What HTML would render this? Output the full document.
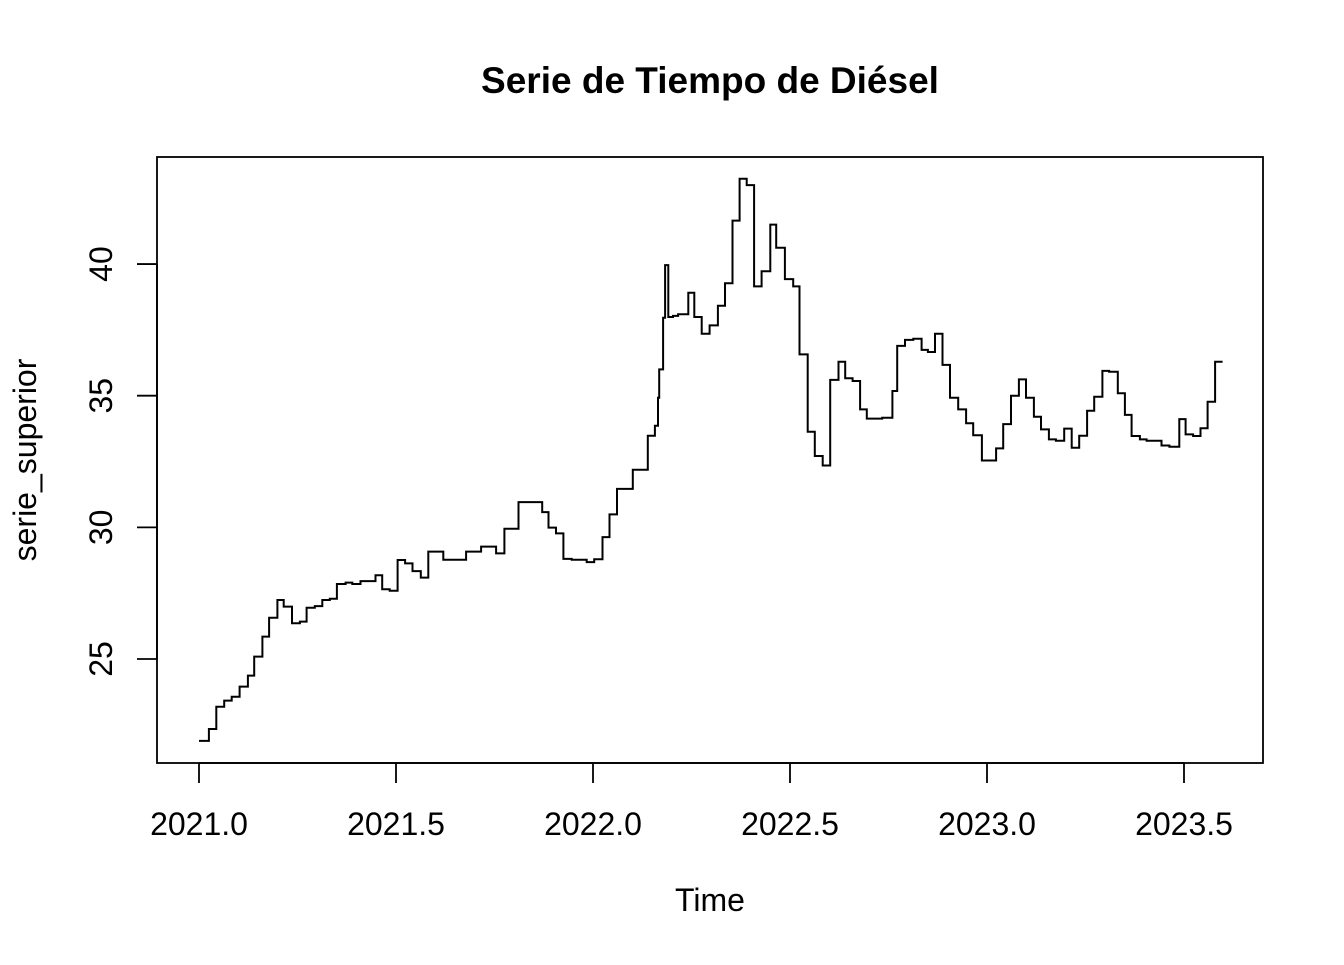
<!DOCTYPE html>
<html><head><meta charset="utf-8"><style>
html,body{margin:0;padding:0;background:#fff;}
svg text{font-family:"Liberation Sans",Arial,sans-serif;fill:#000;}
</style></head><body>
<svg id="chart" width="1344" height="960" viewBox="0 0 1344 960" xmlns="http://www.w3.org/2000/svg">
<rect width="1344" height="960" fill="#fff"/>
<text x="710" y="93" text-anchor="middle" font-size="37" font-weight="bold">Serie de Tiempo de Diésel</text>
<rect x="157" y="157" width="1106" height="606" fill="none" stroke="#000" stroke-width="1.8"/>
<g id="xaxis"></g>
<g id="yaxis"></g>
<text x="710" y="911" text-anchor="middle" font-size="32">Time</text>
<text transform="translate(36,460) rotate(-90)" text-anchor="middle" font-size="32">serie_superior</text>
<path id="series" fill="none" stroke="#000" stroke-width="2"/>
</svg>
<script>
const times = [2021.000,2021.025,2021.044,2021.064,2021.083,2021.103,2021.124,2021.140,2021.161,2021.178,2021.199,2021.215,2021.236,2021.256,2021.273,2021.294,2021.313,2021.332,2021.350,2021.372,2021.389,2021.410,2021.448,2021.465,2021.484,2021.504,2021.523,2021.542,2021.563,2021.582,2021.620,2021.678,2021.716,2021.754,2021.775,2021.811,2021.871,2021.887,2021.906,2021.925,2021.946,2021.984,2022.003,2022.024,2022.042,2022.061,2022.101,2022.139,2022.157,2022.165,2022.168,2022.178,2022.183,2022.191,2022.203,2022.216,2022.242,2022.257,2022.276,2022.296,2022.317,2022.335,2022.354,2022.372,2022.390,2022.409,2022.428,2022.450,2022.465,2022.487,2022.508,2022.524,2022.545,2022.563,2022.583,2022.602,2022.623,2022.640,2022.659,2022.678,2022.695,2022.734,2022.760,2022.772,2022.792,2022.813,2022.834,2022.850,2022.868,2022.887,2022.906,2022.927,2022.947,2022.965,2022.987,2023.023,2023.041,2023.061,2023.081,2023.099,2023.119,2023.137,2023.157,2023.175,2023.196,2023.215,2023.234,2023.254,2023.272,2023.293,2023.310,2023.332,2023.350,2023.367,2023.388,2023.405,2023.443,2023.463,2023.488,2023.504,2023.523,2023.542,2023.560,2023.579];
const values = [21.89,22.34,23.19,23.42,23.57,23.95,24.37,25.09,25.85,26.57,27.24,26.99,26.36,26.42,26.95,27.01,27.24,27.29,27.85,27.90,27.85,27.96,28.18,27.65,27.59,28.76,28.63,28.34,28.09,29.08,28.77,29.08,29.27,29.01,29.95,30.96,30.58,29.99,29.77,28.80,28.77,28.68,28.79,29.63,30.49,31.46,32.19,33.48,33.86,34.92,36.00,37.96,39.96,37.99,38.03,38.09,38.91,37.99,37.35,37.67,38.42,39.27,41.65,43.24,43.00,39.15,39.73,41.50,40.62,39.43,39.15,36.57,33.63,32.71,32.35,35.60,36.29,35.66,35.56,34.48,34.13,34.16,35.18,36.89,37.12,37.16,36.74,36.66,37.35,36.17,34.92,34.48,33.95,33.50,32.54,33.00,33.92,35.00,35.62,34.92,34.20,33.72,33.34,33.29,33.75,33.02,33.48,34.43,34.96,35.94,35.91,35.09,34.27,33.47,33.34,33.29,33.11,33.06,34.11,33.53,33.47,33.76,34.77,36.29];
const endTime = 2023.598;
const xTicks = [2021.0,2021.5,2022.0,2022.5,2023.0,2023.5];
const xTickLabels = ["2021.0","2021.5","2022.0","2022.5","2023.0","2023.5"];
const yTicks = [25,30,35,40];
const yTickLabels = ["25","30","35","40"];

const X = t => 199 + (t - 2021) * 394;
const Y = v => 659 - (v - 25) * 26.33;
const NS = "http://www.w3.org/2000/svg";
function mk(tag, attrs, parent) {
  const e = document.createElementNS(NS, tag);
  for (const k in attrs) e.setAttribute(k, attrs[k]);
  parent.appendChild(e);
  return e;
}
const xa = document.getElementById('xaxis');
mk('line', {x1: X(xTicks[0]), x2: X(xTicks[xTicks.length-1]), y1: 763, y2: 763, stroke: '#000', 'stroke-width': 1.8}, xa);
xTicks.forEach((t, i) => {
  const tk = mk('line', {x1: X(t), x2: X(t), y1: 763, y2: 783, stroke: '#000', 'stroke-width': 1.8}, xa);
  
  
  const lb = mk('text', {x: X(t), y: 835, 'text-anchor': 'middle', 'font-size': 32}, xa);
  lb.textContent = xTickLabels[i];
  
  
});
const ya = document.getElementById('yaxis');
mk('line', {x1: 157, x2: 157, y1: Y(yTicks[0]), y2: Y(yTicks[yTicks.length-1]), stroke: '#000', 'stroke-width': 1.8}, ya);
yTicks.forEach((v, i) => {
  const tk = mk('line', {x1: 137, x2: 157, y1: Y(v), y2: Y(v), stroke: '#000', 'stroke-width': 1.8}, ya);
  
  
  const lb = mk('text', {transform: `translate(112,${Y(v)}) rotate(-90)`, 'text-anchor': 'middle', 'font-size': 32}, ya);
  lb.textContent = yTickLabels[i];
  
  
});
let d = `M${X(times[0])},${Y(values[0])}`;
for (let i = 1; i < times.length; i++) {
  d += ` H${X(times[i]).toFixed(1)} V${Y(values[i]).toFixed(1)}`;
}
d += ` H${X(endTime).toFixed(1)}`;
document.getElementById('series').setAttribute('d', d);
</script>
</body></html>
